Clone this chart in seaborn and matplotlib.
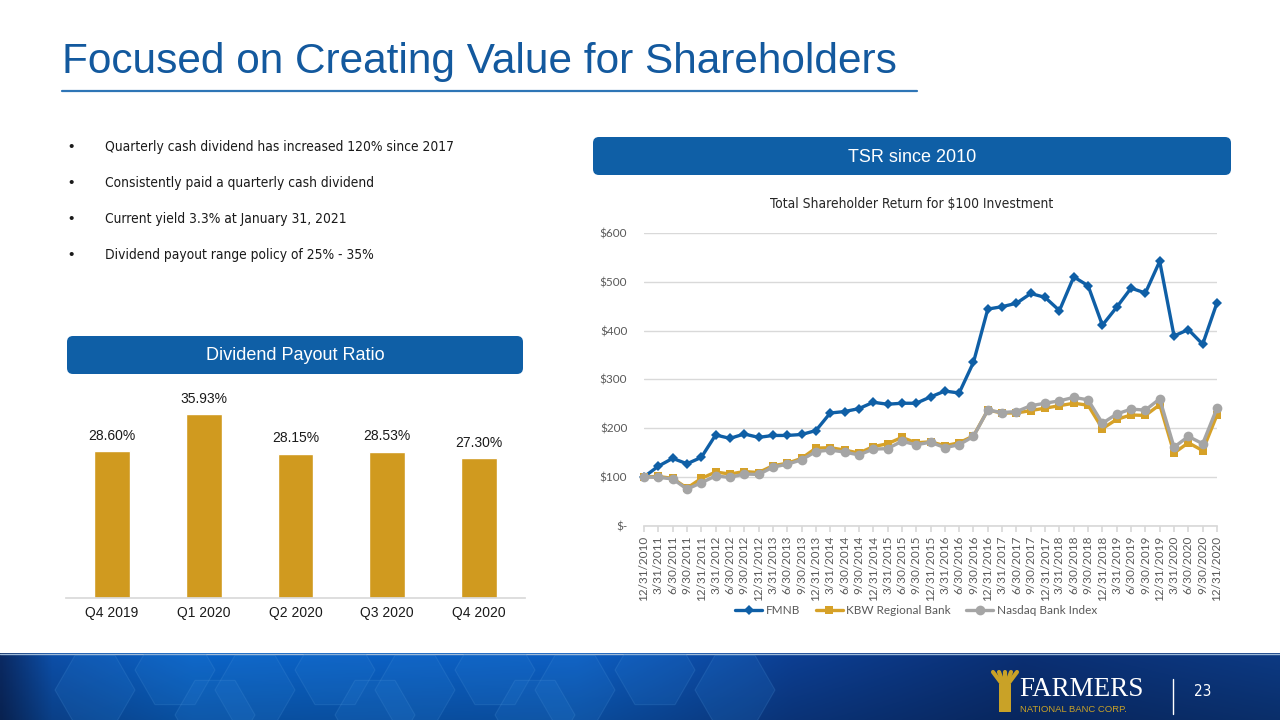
import numpy as np
import pandas as pd
import matplotlib
matplotlib.use("Agg")
import matplotlib.pyplot as plt
from matplotlib.patches import FancyBboxPatch, RegularPolygon, Rectangle
from matplotlib.lines import Line2D
import seaborn as sns

# ---------------- data ----------------
dates = ["12/31/2010", "3/31/2011", "6/30/2011", "9/30/2011", "12/31/2011",
         "3/31/2012", "6/30/2012", "9/30/2012", "12/31/2012",
         "3/31/2013", "6/30/2013", "9/30/2013", "12/31/2013",
         "3/31/2014", "6/30/2014", "9/30/2014", "12/31/2014",
         "3/31/2015", "6/30/2015", "9/30/2015", "12/31/2015",
         "3/31/2016", "6/30/2016", "9/30/2016", "12/31/2016",
         "3/31/2017", "6/30/2017", "9/30/2017", "12/31/2017",
         "3/31/2018", "6/30/2018", "9/30/2018", "12/31/2018",
         "3/31/2019", "6/30/2019", "9/30/2019", "12/31/2019",
         "3/31/2020", "6/30/2020", "9/30/2020", "12/31/2020"]
fmnb = [100, 122, 138, 127, 140, 186, 179, 188, 181, 185, 185, 187, 195,
        231, 234, 240, 253, 249, 251, 251, 264, 276, 272, 335, 444, 449,
        456, 476, 468, 441, 510, 492, 411, 448, 487, 477, 542, 389, 402,
        372, 457]
kbw = [100, 101, 97, 77, 97, 110, 106, 111, 109, 123, 128, 138, 159,
       160, 155, 149, 162, 168, 181, 170, 172, 164, 170, 184, 237, 231,
       231, 236, 241, 246, 251, 247, 199, 218, 227, 226, 248, 149, 170,
       154, 227]
nasdaq = [100, 99, 96, 75, 88, 102, 99, 106, 105, 120, 126, 135, 152,
          155, 151, 145, 157, 158, 173, 166, 171, 160, 166, 183, 237, 232,
          234, 246, 251, 256, 263, 258, 210, 229, 239, 237, 260, 161, 183,
          168, 241]
series_names = ["FMNB", "KBW Regional Bank", "Nasdaq Bank Index"]
y_ticks = [0, 100, 200, 300, 400, 500, 600]
y_tick_labels = ["$-", "$100", "$200", "$300", "$400", "$500", "$600"]

quarters = ["Q4 2019", "Q1 2020", "Q2 2020", "Q3 2020", "Q4 2020"]
payout = [28.60, 35.93, 28.15, 28.53, 27.30]

bullets = ["Quarterly cash dividend has increased 120% since 2017",
           "Consistently paid a quarterly cash dividend",
           "Current yield 3.3% at January 31, 2021",
           "Dividend payout range policy of 25% - 35%"]

# ---------------- style ----------------
sns.set_theme(style="white")
plt.rcParams['font.family'] = ['Liberation Sans', 'DejaVu Sans']

BLUE = "#0F5FA6"
TITLE_BLUE = "#13599E"
GOLD = "#D09A1F"
LINE_GOLD = "#D6A128"
GRAY = "#A5A5A5"
TICK_GRAY = "#595959"
NARROW = ['DejaVu Sans']
CAL = ['Lato', 'DejaVu Sans']

W, H = 1280, 720
fig = plt.figure(figsize=(12.8, 7.2), dpi=100)


def rect(l, t, r, b):
    return [l / W, 1 - b / H, (r - l) / W, (b - t) / H]


# background / decoration axes in pixel coordinates
bg = fig.add_axes([0, 0, 1, 1])
bg.set_xlim(0, W)
bg.set_ylim(H, 0)
bg.axis("off")

# Title
bg.text(62, 62, "Focused on Creating Value for Shareholders", fontsize=30.5,
        color=TITLE_BLUE, va="center", ha="left")
bg.plot([62, 917], [91, 91], color="#2E75B6", lw=1.6)

# bullets
for i, b in enumerate(bullets):
    y = 147 + i * 36
    bg.text(68, y, "\u2022", fontsize=11, color="#1a1a1a", va="center", ha="left")
    bg.text(105, y, b, fontsize=9.9, color="#1a1a1a", va="center", ha="left",
            family=NARROW, fontstretch="condensed")

# header boxes
for (l, t, r, b, label) in [(593, 137, 1231, 175, "TSR since 2010"),
                            (67, 336, 523, 374, "Dividend Payout Ratio")]:
    bg.add_patch(FancyBboxPatch((l, t), r - l, b - t,
                                boxstyle="round,pad=0,rounding_size=6",
                                fc=BLUE, ec="none"))
    bg.text((l + r) / 2, (t + b) / 2 + 1, label, fontsize=13, color="white",
            ha="center", va="center")

# chart title
bg.text(912, 204, "Total Shareholder Return for $100 Investment", fontsize=9.9,
        color="#262626", ha="center", va="center", family=NARROW,
        fontstretch="condensed")

# footer band
fx = np.linspace(0, 1, 400)
stops_x = [0.0, 0.04, 0.15, 0.45, 0.62, 0.8, 1.0]
stops_c = np.array([[10, 40, 95], [12, 75, 160], [10, 95, 190], [12, 90, 185],
                    [12, 60, 140], [10, 45, 110], [12, 55, 125]]) / 255.0
grad = np.stack([np.interp(fx, stops_x, stops_c[:, k]) for k in range(3)], axis=-1)
vert = np.linspace(1.05, 0.85, 40)[:, None, None]
img = np.clip(grad[None, :, :] * vert, 0, 1)
bg.imshow(img, extent=[0, W, 720, 653], aspect="auto", zorder=1)
bg.plot([0, W], [653.5, 653.5], color="#9DB9D8", lw=1, zorder=2)
clip = Rectangle((0, 654), W, 66, transform=bg.transData, fc="none", ec="none")
bg.add_patch(clip)
for (cx, cy) in [(95, 690), (175, 670), (255, 690), (335, 670), (415, 690),
                 (495, 670), (575, 690), (655, 670), (735, 690), (215, 715),
                 (375, 715), (535, 715)]:
    hx = RegularPolygon((cx, cy), 6, radius=40, orientation=np.pi / 6,
                        fc="#2a7fd4", ec="#5aa0e0", lw=0.8, alpha=0.18, zorder=2)
    bg.add_patch(hx)
    hx.set_clip_path(clip)
# logo
bg.add_patch(Rectangle((999, 684), 12, 28, fc="#C9A227", ec="none", zorder=3))
for dx in [-8, -4, 0, 4, 8]:
    bg.plot([1005, 1005 + dx * 1.5], [688, 672], color="#C9A227", lw=3,
            solid_capstyle="round", zorder=3)
bg.text(1019, 690, "FARMERS", fontsize=19.5, color="white", ha="left", va="center",
        family=['Liberation Serif', 'DejaVu Serif'], zorder=3)
bg.text(1020, 709, "NATIONAL BANC CORP.", fontsize=6.8, color="#C9A227",
        ha="left", va="center", zorder=3)
bg.plot([1173, 1173], [679, 714], color="white", lw=1, zorder=3)
bg.text(1203, 691, "23", fontsize=11, color="white", ha="center", va="center",
        family=NARROW, fontstretch="condensed", zorder=3)

# ---------------- line chart ----------------
ax = fig.add_axes(rect(644, 233, 1217, 525.7))
df = pd.DataFrame({
    "idx": np.tile(np.arange(len(dates)), 3),
    "value": fmnb + kbw + nasdaq,
    "series": np.repeat(series_names, len(dates)),
})
palette = {"FMNB": BLUE, "KBW Regional Bank": LINE_GOLD, "Nasdaq Bank Index": GRAY}
markers = {"FMNB": "D", "KBW Regional Bank": "s", "Nasdaq Bank Index": "o"}
sizes = {"FMNB": 5, "KBW Regional Bank": 6, "Nasdaq Bank Index": 7}
for name in series_names:
    sub = df[df["series"] == name]
    sns.lineplot(data=sub, x="idx", y="value", color=palette[name],
                 marker=markers[name], markersize=sizes[name],
                 markeredgewidth=0, linewidth=2.4, ax=ax, legend=False,
                 clip_on=False, zorder=3)
ax.set_xlim(0, len(dates) - 1)
ax.set_ylim(0, 600)
ax.set_yticks(y_ticks)
ax.set_yticklabels(y_tick_labels, family=CAL, fontsize=8.5, color=TICK_GRAY)
ax.set_xticks(np.arange(len(dates)))
ax.set_xticklabels(dates, rotation=90, family=CAL, fontsize=8.5, color=TICK_GRAY)
ax.set_xlabel("")
ax.set_ylabel("")
ax.grid(axis="y", color="#D9D9D9", lw=1)
ax.grid(axis="x", visible=False)
for s in ["top", "right", "left"]:
    ax.spines[s].set_visible(False)
ax.spines["bottom"].set_color("#D9D9D9")
ax.tick_params(axis="x", which="major", length=4, color="#D9D9D9", pad=3,
               bottom=True)
ax.tick_params(axis="y", length=0, pad=12)
ax.set_facecolor("none")
for lab in ax.get_yticklabels():
    lab.set_horizontalalignment("right")

handles = [Line2D([0], [0], color=palette[n], marker=markers[n],
                  markersize=sizes[n], markeredgewidth=0, lw=2.4)
           for n in series_names]
leg = ax.legend(handles, series_names, loc="center", ncol=3,
                bbox_to_anchor=(0.475, (525.7 - 611) / (525.7 - 233)),
                frameon=False, prop={"family": CAL, "size": 8.5},
                handlelength=2.3, columnspacing=1.3, handletextpad=0.3)
for t in leg.get_texts():
    t.set_color(TICK_GRAY)

# ---------------- bar chart ----------------
ax2 = fig.add_axes(rect(66, 393, 525, 598))
sns.barplot(x=quarters, y=payout, color=GOLD, saturation=1, width=0.39, ax=ax2)
ax2.set_ylim(0, 40)
ax2.set_xlim(-0.5, len(quarters) - 0.5)
for i, v in enumerate(payout):
    ax2.annotate(f"{v:.2f}%", (i, v), xytext=(0, 6), textcoords="offset points",
                 ha="center", va="bottom", fontsize=10, color="#1a1a1a")
ax2.set_yticks([])
ax2.set_ylabel("")
ax2.set_xlabel("")
for s in ["top", "right", "left"]:
    ax2.spines[s].set_visible(False)
ax2.spines["bottom"].set_color("#D9D9D9")
ax2.tick_params(axis="x", length=0, pad=6, labelsize=10, labelcolor="#1a1a1a")
ax2.set_facecolor("none")

fig.savefig("out.png", dpi=100)
